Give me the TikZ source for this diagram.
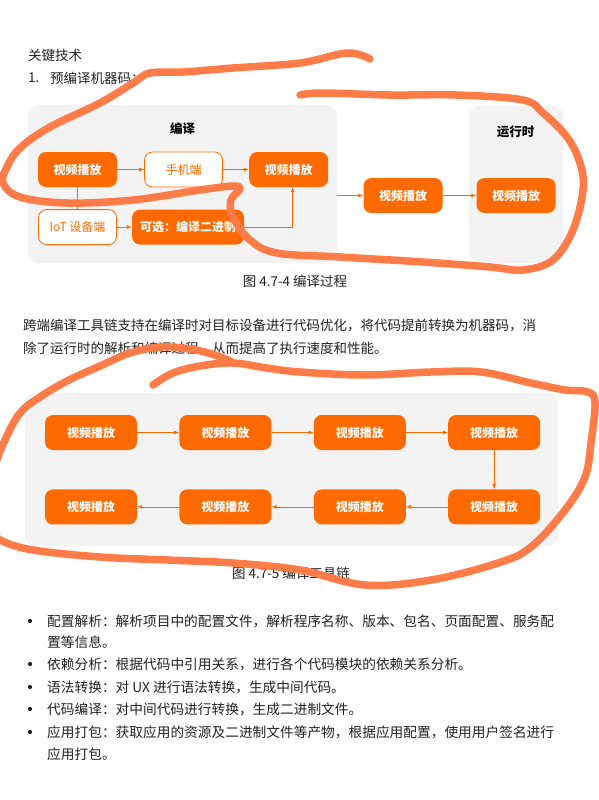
\documentclass[tikz,border=0pt]{standalone}
\usepackage{fontspec}
\setmainfont{Noto Sans CJK SC}
\usepackage{xcolor}
\usepackage{tikz}
\usetikzlibrary{arrows.meta, calc, positioning}
\definecolor{aliorange}{HTML}{FF6A00}
\definecolor{penorange}{HTML}{FF7B47}
\definecolor{panelgray}{HTML}{F3F3F3}
\definecolor{bodytext}{HTML}{222222}
\tikzset{
    filledbox/.style = {draw=none, fill=aliorange, rectangle, rounded corners=8pt, text=white,
      font=\fontsize{12}{14}\selectfont\bfseries, minimum width=79pt, minimum height=35pt, inner sep=0pt},
    outlinebox/.style = {draw=aliorange, fill=white, rectangle, rounded corners=8pt, text=aliorange,
      line width=0.8pt, font=\fontsize{12}{14}\selectfont, minimum width=78pt, minimum height=35pt, inner sep=0pt},
    chainbox/.style = {filledbox, minimum width=92pt},
    panelbox/.style = {draw=none, fill=panelgray, rectangle, rounded corners=10pt, inner sep=0pt},
    textnode/.style = {draw=none, fill=none, rectangle, inner sep=0pt, anchor=west, text=bodytext,
      font=\fontsize{13.5}{16}\selectfont},
    bulletnode/.style = {textnode, font=\fontsize{13.7}{16}\selectfont},
    dotnode/.style = {draw=none, fill=bodytext, circle, minimum size=4.2pt, inner sep=0pt},
    titlenode/.style = {textnode, anchor=center, text=black, font=\fontsize{12.5}{15}\selectfont\bfseries},
    plainline/.style = {aliorange, line width=0.8pt},
    connect/.style = {plainline, -{Latex[length=5pt, width=4pt]}},
    scribble/.style = {penorange, line width=7.5pt, line cap=round, line join=round}
}

\begin{document}
\begin{tikzpicture}[x=1pt, y=-1pt]
\useasboundingbox [fill=white] (0,0) rectangle (598,800);

\node [textnode, name=Heading] at (28,55) {关键技术};
\node [textnode, name=ItemNum] at (28,78) {1.};
\node [textnode, name=ItemTitle] at (50,78) {预编译机器码：};

% compile / runtime
\node [panelbox, name=CompilePanel, minimum width=309pt, minimum height=158pt] at (182.5,184) {};
\node [panelbox, name=RunPanel, minimum width=94pt, minimum height=157pt] at (516,184.5) {};
\node [titlenode, name=CompileTitle] at (182.5,129) {编译};
\node [titlenode, name=RunTitle] at (515.5,132) {运行时};

\node [filledbox, name=SrcPlay] at (77.5,169.5) {视频播放};
\node [outlinebox, name=Phone, right=27pt of SrcPlay] {手机端};
\node [filledbox, name=PhonePlay, right=26pt of Phone] {视频播放};
\node [outlinebox, name=IoT, below=22pt of SrcPlay] {IoT 设备端};
\node [filledbox, name=Binary, right=15pt of IoT, minimum width=112pt] {可选：编译二进制};
\node [filledbox, name=MidPlay] at (403,195.5) {视频播放};
\node [filledbox, name=RunPlay] at (516,195.5) {视频播放};

\draw (SrcPlay) edge[connect] (Phone);
\draw (Phone) edge[connect] (PhonePlay);
\draw (SrcPlay) edge[plainline] (IoT);
\draw (IoT) edge[connect] (Binary);
\draw [connect] (Binary.east) -| ([xshift=4pt]PhonePlay.south);
\draw [connect] (CompilePanel.east |- MidPlay.west) -- (MidPlay);
\draw (MidPlay) edge[connect] (RunPlay);

\node [textnode, anchor=center, name=CaptionA] at (295,281) {图 4.7-4 编译过程};

\node [textnode, name=ParaA] at (23,326) {跨端编译工具链支持在编译时对目标设备进行代码优化，将代码提前转换为机器码，消};
\node [textnode, name=ParaB] at (23,349) {除了运行时的解析和编译过程，从而提高了执行速度和性能。};

% tool chain
\node [panelbox, name=ChainPanel, minimum width=533pt, minimum height=153pt] at (291.5,469.5) {};
\node [chainbox, name=StepA] at (91,432.5) {视频播放};
\node [chainbox, name=StepB, right=42pt of StepA] {视频播放};
\node [chainbox, name=StepC, right=42pt of StepB] {视频播放};
\node [chainbox, name=StepD, right=42pt of StepC] {视频播放};
\node [chainbox, name=StepE, below=39pt of StepD] {视频播放};
\node [chainbox, name=StepF, left=42pt of StepE] {视频播放};
\node [chainbox, name=StepG, left=42pt of StepF] {视频播放};
\node [chainbox, name=StepH, left=42pt of StepG] {视频播放};
\draw (StepA) edge[connect] (StepB);
\draw (StepB) edge[connect] (StepC);
\draw (StepC) edge[connect] (StepD);
\draw (StepD) edge[connect] (StepE);
\draw (StepE) edge[connect] (StepF);
\draw (StepF) edge[connect] (StepG);
\draw (StepG) edge[connect] (StepH);

\node [textnode, anchor=center, name=CaptionB] at (291,573) {图 4.7-5 编译工具链};

% bullet list
\node [dotnode, name=DotA] at (30,621) {};
\node [bulletnode, name=ItemA] at (47,621) {配置解析：解析项目中的配置文件，解析程序名称、版本、包名、页面配置、服务配};
\node [bulletnode, name=ItemAx] at (47,642) {置等信息。};
\node [dotnode, name=DotB] at (30,664) {};
\node [bulletnode, name=ItemB] at (47,664) {依赖分析：根据代码中引用关系，进行各个代码模块的依赖关系分析。};
\node [dotnode, name=DotC] at (30,687) {};
\node [bulletnode, name=ItemC] at (47,687) {语法转换：对 UX 进行语法转换，生成中间代码。};
\node [dotnode, name=DotD] at (30,709) {};
\node [bulletnode, name=ItemD] at (47,709) {代码编译：对中间代码进行转换，生成二进制文件。};
\node [dotnode, name=DotE] at (30,732) {};
\node [bulletnode, name=ItemE] at (47,732) {应用打包：获取应用的资源及二进制文件等产物，根据应用配置，使用用户签名进行};
\node [bulletnode, name=ItemEx] at (47,754) {应用打包。};

% pen marks
\draw [scribble] plot [smooth, tension=0.6] coordinates {(370,59) (347,53) (300,63) (233,68) (183,72)
  (150,73) (133,83) (100,103) (50,127) (20,148) (7,167) (3,183) (20,197) (67,203) (133,200) (200,190)
  (233,186) (240,189) (231,200) (233,217) (250,240) (277,253) (340,257) (423,262) (490,267) (523,270)
  (553,260) (573,230) (583,190) (580,163) (567,137) (543,113) (523,100) (457,95) (390,95) (323,93) (300,95)};
\draw [scribble] plot [smooth, tension=0.6] coordinates {(232,362) (215,355) (190,349) (160,347)
  (130,353) (100,366) (67,381) (40,397) (20,413) (5,440) (-6,470) (-10,505) (-4,530) (0,540) (33,550)
  (100,557) (167,560) (233,563) (300,570) (365,585) (431,580) (498,563) (531,547) (565,510) (585,477)
  (591,443) (595,403) (588,392) (565,390) (531,383) (481,372) (431,372) (365,375) (300,372) (267,368)
  (233,363) (200,366) (173,373) (153,385)};
\end{tikzpicture}
\end{document}
